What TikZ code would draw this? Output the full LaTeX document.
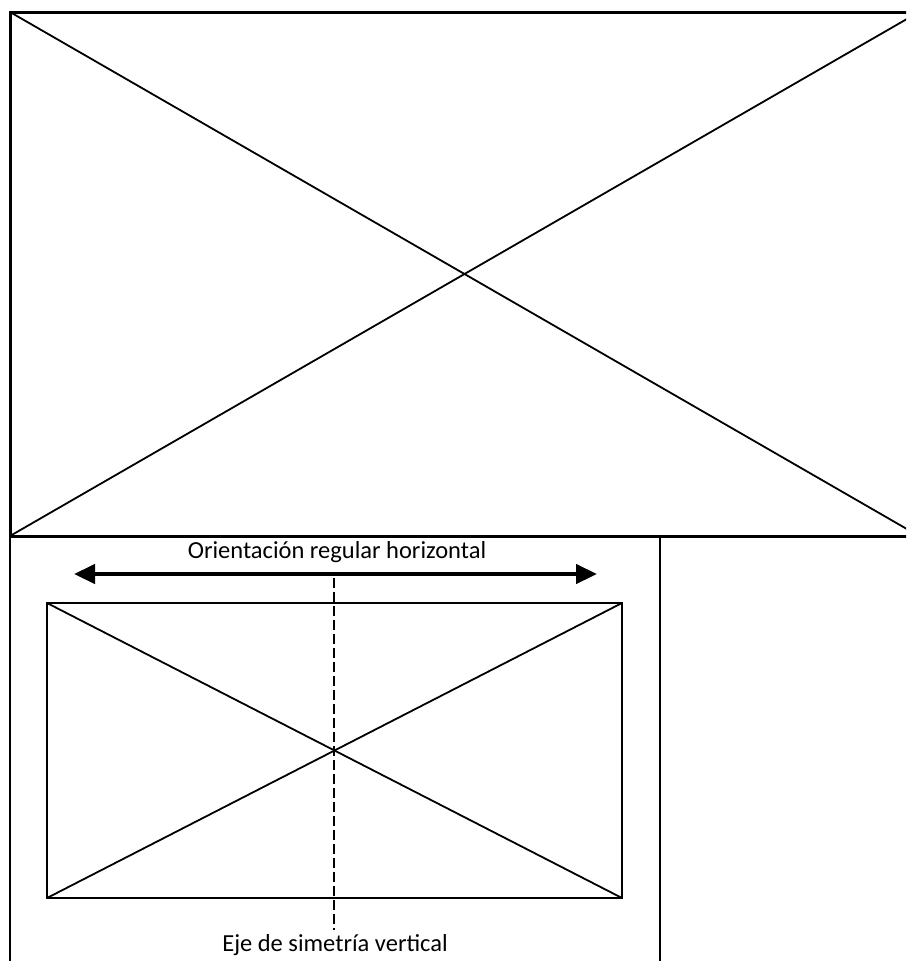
\documentclass[tikz,border=0pt]{standalone}
\usepackage{fontspec}
\setmainfont{Carlito}
\usetikzlibrary{arrows.meta,positioning}
\tikzset{
  frame/.style={draw=black, line width=2.2pt, inner sep=0pt, outer sep=0pt},
  bigframe/.style={frame, line width=3pt},
  diag/.style={draw=black, line width=1.8pt},
  axis/.style={draw=black, line width=1.8pt, dash pattern=on 10pt off 4pt},
  orient/.style={{Triangle[length=21pt,width=19pt]}-{Triangle[length=21pt,width=19pt]}, line width=4.5pt},
  caption/.style={font=\fontsize{24.5}{29}\selectfont, inner sep=0pt, anchor=center}
}
\begin{document}
\begin{tikzpicture}[x=1pt, y=-1pt]
\useasboundingbox (0,0) rectangle (906,961);
\clip (0,0) rectangle (906,961);
% upper format
\node[bigframe, minimum width=909pt, minimum height=524pt] (upper) at (464.5,274) {};
\draw[diag] (upper.north west) -- (upper.south east);
\draw[diag] (upper.south west) -- (upper.north east);
% lower panel
\node[frame, minimum width=650pt, minimum height=460pt] (panel) at (335,767) {};
\node[frame, minimum width=575pt, minimum height=295pt] (sheet) at (334.5,750.5) {};
\draw[diag] (sheet.north west) -- (sheet.south east);
\draw[diag] (sheet.south west) -- (sheet.north east);
% orientation and axis
\node[caption] (lblH) at (337,552) {Orientación regular horizontal};
\coordinate (arrL) at (74,574);
\coordinate (arrR) at (597,574);
\draw[orient] (arrL) -- (arrR);
\coordinate (axTop) at (334,578);
\coordinate (axBot) at (334,930);
\draw[axis] (axTop) -- (axBot);
\node[caption] (lblV) at (335,945) {Eje de simetría vertical};
\end{tikzpicture}
\end{document}
